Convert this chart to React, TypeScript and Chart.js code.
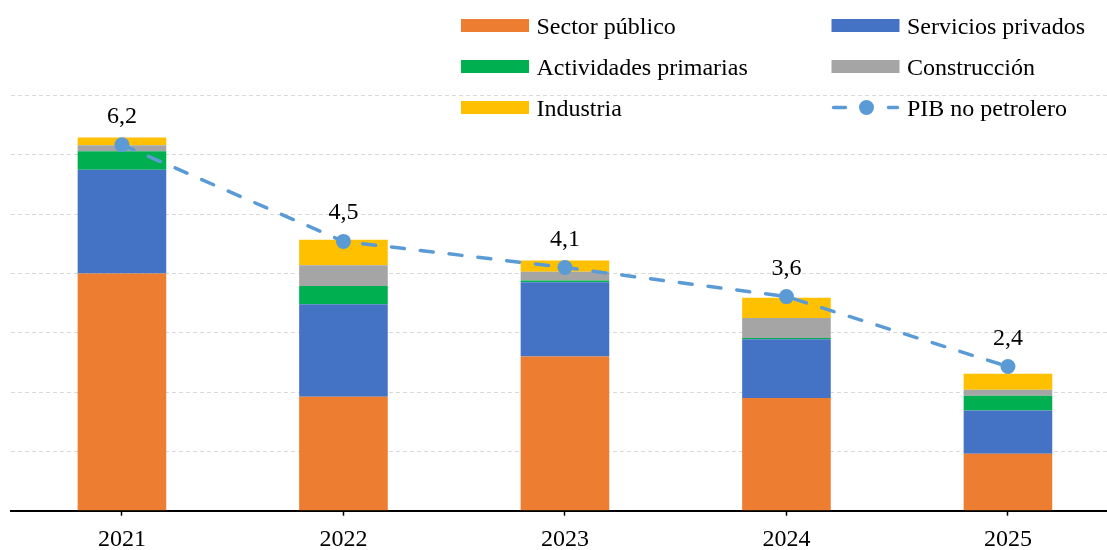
import React, { useEffect, useRef } from "react";
import { Chart, registerables } from "chart.js";

Chart.register(...registerables);

const categories = ["2021", "2022", "2023", "2024", "2025"];
const sectorPublico = [4.0, 1.92, 2.6, 1.9, 0.96];
const serviciosPrivados = [1.75, 1.56, 1.25, 0.99, 0.73];
const actividadesPrimarias = [0.31, 0.31, 0.03, 0.02, 0.25];
const construccion = [0.1, 0.35, 0.15, 0.34, 0.1];
const industria = [0.13, 0.43, 0.19, 0.34, 0.27];
const pibNoPetrolero = [6.17, 4.54, 4.1, 3.61, 2.43];

const FONT = "'Liberation Serif', 'Times New Roman', serif";
const LINE_COLOR = "#5B9BD5";
const FS = 24;

export default function App() {
  const ref = useRef<HTMLCanvasElement | null>(null);

  useEffect(() => {
    if (!ref.current) return;

    const legendPlugin = {
      id: "gridLegend",
      afterDraw(chart: any) {
        const ctx = chart.ctx;
        ctx.save();
        const cols = [461, 831.5];
        const rows = [25.5, 66.5, 107.5];
        chart.data.datasets.forEach((ds: any, i: number) => {
          const x = cols[i % 2];
          const y = rows[Math.floor(i / 2)];
          if (ds.type === "line") {
            ctx.strokeStyle = LINE_COLOR;
            ctx.lineWidth = 3.5;
            ctx.lineCap = "round";
            ctx.beginPath();
            ctx.moveTo(x + 2, y);
            ctx.lineTo(x + 14, y);
            ctx.moveTo(x + 57, y);
            ctx.lineTo(x + 66, y);
            ctx.stroke();
            ctx.fillStyle = LINE_COLOR;
            ctx.beginPath();
            ctx.arc(x + 35, y, 7.5, 0, Math.PI * 2);
            ctx.fill();
          } else {
            ctx.fillStyle = ds.backgroundColor;
            ctx.fillRect(x, y - 6.5, 68, 13);
          }
          ctx.fillStyle = "#000";
          ctx.font = `${FS}px ${FONT}`;
          ctx.textAlign = "left";
          ctx.textBaseline = "alphabetic";
          ctx.fillText(ds.label, x + 75.5, y + 8);
        });
        ctx.restore();
      },
    };

    const labelPlugin = {
      id: "lineLabels",
      afterDatasetsDraw(chart: any) {
        const ctx = chart.ctx;
        ctx.save();
        chart.data.datasets.forEach((ds: any, i: number) => {
          if (ds.type !== "line") return;
          const meta = chart.getDatasetMeta(i);
          meta.data.forEach((pt: any, j: number) => {
            const v = ds.data[j] as number;
            ctx.fillStyle = "#000";
            ctx.font = `${FS}px ${FONT}`;
            ctx.textAlign = "center";
            ctx.textBaseline = "alphabetic";
            ctx.fillText(v.toFixed(1).replace(".", ","), pt.x, pt.y - 22);
          });
        });
        ctx.restore();
      },
    };

    const chart = new Chart(ref.current, {
      type: "bar",
      data: {
        labels: categories,
        datasets: [
          { type: "bar", label: "Sector público", data: sectorPublico, backgroundColor: "#ED7D31", stack: "s", order: 1 },
          { type: "bar", label: "Servicios privados", data: serviciosPrivados, backgroundColor: "#4472C4", stack: "s", order: 1 },
          { type: "bar", label: "Actividades primarias", data: actividadesPrimarias, backgroundColor: "#00B050", stack: "s", order: 1 },
          { type: "bar", label: "Construcción", data: construccion, backgroundColor: "#A5A5A5", stack: "s", order: 1 },
          { type: "bar", label: "Industria", data: industria, backgroundColor: "#FFC000", stack: "s", order: 1 },
          {
            type: "line",
            label: "PIB no petrolero",
            data: pibNoPetrolero,
            borderColor: LINE_COLOR,
            backgroundColor: LINE_COLOR,
            borderWidth: 3.5,
            borderDash: [13, 16],
            borderCapStyle: "round",
            pointRadius: 7.5,
            pointBorderWidth: 0,
            pointBackgroundColor: LINE_COLOR,
            fill: false,
            tension: 0,
            stack: "line",
            order: 0,
          } as any,
        ],
      },
      options: {
        animation: false,
        responsive: true,
        maintainAspectRatio: false,
        layout: { padding: { left: 11.2, right: 11.3, top: 95.5, bottom: 0 } },
        plugins: { legend: { display: false }, tooltip: { enabled: false } },
        datasets: { bar: { barPercentage: 0.4, categoryPercentage: 1 } },
        scales: {
          x: {
            stacked: true,
            grid: {
              offset: false,
              drawOnChartArea: false,
              drawTicks: true,
              tickLength: 5,
              tickColor: "#000",
              tickWidth: 1.5,
            },
            border: { display: true, color: "#000", width: 2 },
            ticks: { color: "#000", font: { family: FONT, size: FS }, padding: 10, maxRotation: 0 },
            afterFit: (axis: any) => {
              axis.height = 39.3;
            },
          },
          y: {
            stacked: true,
            min: 0,
            max: 7,
            ticks: { display: false, stepSize: 1 },
            grid: { color: "#D9D9D9", lineWidth: 1, drawTicks: false, tickLength: 0 },
            border: { display: false, dash: [4, 3] },
            afterFit: (axis: any) => {
              axis.width = 0;
            },
          },
        },
      },
      plugins: [labelPlugin, legendPlugin],
    });

    return () => chart.destroy();
  }, []);

  return (
    <div
      style={{
        position: "fixed",
        left: 0,
        top: 0,
        width: 1107,
        height: 550,
        overflow: "hidden",
        background: "#fff",
      }}
    >
      <div style={{ position: "relative", width: 1130, height: 550 }}>
        <canvas ref={ref} />
      </div>
    </div>
  );
}
